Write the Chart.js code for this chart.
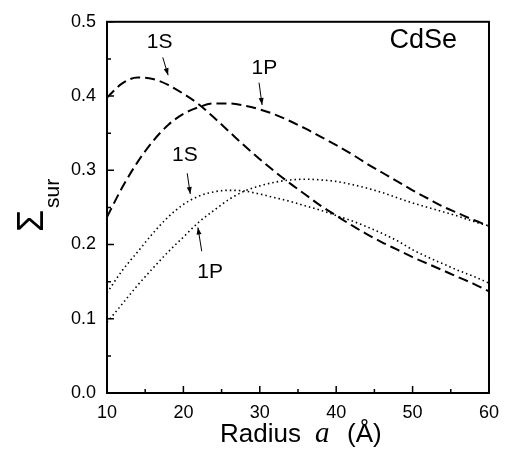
<!DOCTYPE html>
<html>
<head>
<meta charset="utf-8">
<script src="https://cdn.jsdelivr.net/npm/chart.js@4/dist/chart.umd.min.js"></script>
<style>
  html, body { margin: 0; padding: 0; background: #fff; }
  #wrap { width: 508px; height: 460px; }
</style>
</head>
<body>
<div id="wrap"><canvas id="cv" width="508" height="460"></canvas></div>
<script>
// radius a (Angstrom)
const radius = [10, 12, 14, 16, 18, 20, 22, 24, 26, 28, 30, 32, 34, 36, 38, 40, 42, 44, 46, 48, 50, 52, 54, 56, 58, 60];
// dashed curves
const s1Dash = [0.398, 0.417, 0.425, 0.423, 0.415, 0.403, 0.389, 0.371, 0.352, 0.333, 0.315, 0.298, 0.282, 0.267, 0.252, 0.239, 0.226, 0.214, 0.203, 0.193, 0.183, 0.174, 0.165, 0.156, 0.147, 0.137];
const p1Dash = [0.237, 0.277, 0.311, 0.339, 0.361, 0.376, 0.385, 0.390, 0.390, 0.387, 0.382, 0.375, 0.366, 0.356, 0.345, 0.334, 0.322, 0.309, 0.297, 0.285, 0.273, 0.262, 0.251, 0.242, 0.233, 0.225];
// dotted curves
const s1Dot = [0.135, 0.165, 0.190, 0.215, 0.237, 0.254, 0.265, 0.271, 0.273, 0.272, 0.268, 0.263, 0.258, 0.252, 0.246, 0.239, 0.232, 0.224, 0.215, 0.205, 0.193, 0.183, 0.174, 0.165, 0.157, 0.148];
const p1Dot = [0.095, 0.120, 0.145, 0.168, 0.190, 0.210, 0.230, 0.246, 0.261, 0.272, 0.279, 0.284, 0.287, 0.288, 0.287, 0.285, 0.281, 0.276, 0.270, 0.263, 0.256, 0.250, 0.244, 0.238, 0.231, 0.225];

const xTicks = [10, 20, 30, 40, 50, 60];
const yTicks = [0.0, 0.1, 0.2, 0.3, 0.4, 0.5];

// curve labels: text, label pos, arrow from, arrow to (data units)
const notes = [
  { t: '1S', at: [16.9, 0.472], from: [17.3, 0.452], to: [18.0, 0.428] },
  { t: '1P', at: [30.6, 0.438], from: [29.9, 0.418], to: [30.3, 0.388] },
  { t: '1S', at: [20.2, 0.320], from: [20.5, 0.296], to: [20.9, 0.268] },
  { t: '1P', at: [23.5, 0.163], from: [22.4, 0.191], to: [21.9, 0.223] }
];

const pts = (ys) => radius.map((r, i) => ({ x: r, y: ys[i] }));
const SANS = '"Liberation Sans", Arial, sans-serif';

const framePlugin = {
  id: 'frame',
  afterDraw(chart) {
    const ctx = chart.ctx;
    const a = chart.chartArea;
    const sx = chart.scales.x, sy = chart.scales.y;
    ctx.save();
    ctx.strokeStyle = '#000';
    ctx.lineWidth = 2;
    ctx.strokeRect(a.left, a.top, a.right - a.left, a.bottom - a.top);
    ctx.lineWidth = 1.5;
    ctx.beginPath();
    for (let v = 10; v <= 60; v += 5) {
      const px = sx.getPixelForValue(v);
      const len = v % 10 === 0 ? 7 : 4;
      ctx.moveTo(px, a.bottom); ctx.lineTo(px, a.bottom - len);
    }
    for (let k = 0; k <= 10; k++) {
      const py = sy.getPixelForValue(k * 0.05);
      const len = k % 2 === 0 ? 7 : 4;
      ctx.moveTo(a.left, py); ctx.lineTo(a.left + len, py);
    }
    ctx.stroke();

    // curve labels + arrows
    ctx.fillStyle = '#000';
    ctx.font = '21px ' + SANS;
    ctx.textAlign = 'center';
    ctx.textBaseline = 'middle';
    ctx.lineWidth = 1;
    notes.forEach(n => {
      ctx.fillText(n.t, sx.getPixelForValue(n.at[0]), sy.getPixelForValue(n.at[1]));
      const x1 = sx.getPixelForValue(n.from[0]), y1 = sy.getPixelForValue(n.from[1]);
      const x2 = sx.getPixelForValue(n.to[0]), y2 = sy.getPixelForValue(n.to[1]);
      const ang = Math.atan2(y2 - y1, x2 - x1);
      ctx.beginPath(); ctx.moveTo(x1, y1); ctx.lineTo(x2, y2); ctx.stroke();
      ctx.beginPath();
      ctx.moveTo(x2, y2);
      ctx.lineTo(x2 - 7 * Math.cos(ang) + 2.5 * Math.sin(ang), y2 - 7 * Math.sin(ang) - 2.5 * Math.cos(ang));
      ctx.lineTo(x2 - 7 * Math.cos(ang) - 2.5 * Math.sin(ang), y2 - 7 * Math.sin(ang) + 2.5 * Math.cos(ang));
      ctx.closePath(); ctx.fill();
    });

    // CdSe
    ctx.font = '27px ' + SANS;
    ctx.textBaseline = 'alphabetic';
    ctx.fillText('CdSe', sx.getPixelForValue(51.4), 48);

    // x title
    ctx.textAlign = 'left';
    ctx.font = '26px ' + SANS;
    ctx.fillText('Radius', 220, 442);
    ctx.font = 'italic 29px "Liberation Serif", "Times New Roman", serif';
    ctx.fillText('a', 315, 442);
    ctx.font = '26px ' + SANS;
    ctx.fillText('(\u00C5)', 347, 442);

    // y title, rotated
    ctx.translate(43, 232);
    ctx.rotate(-Math.PI / 2);
    ctx.font = '36px ' + SANS;
    ctx.fillText('\u03A3', 0, 0);
    ctx.font = '21px ' + SANS;
    ctx.fillText('sur', 24, 16);
    ctx.restore();
  }
};

new Chart(document.getElementById('cv'), {
  type: 'line',
  data: {
    datasets: [
      { label: '1S dashed', data: pts(s1Dash), borderDash: [10, 5], borderWidth: 2 },
      { label: '1P dashed', data: pts(p1Dash), borderDash: [10, 5], borderWidth: 2 },
      { label: '1S dotted', data: pts(s1Dot), borderDash: [1.5, 3], borderWidth: 1.6 },
      { label: '1P dotted', data: pts(p1Dot), borderDash: [1.5, 3], borderWidth: 1.6 }
    ].map(d => Object.assign(d, { borderColor: '#000', pointRadius: 0, fill: false, cubicInterpolationMode: 'monotone' }))
  },
  options: {
    responsive: false,
    animation: false,
    layout: { padding: { top: 13, right: 19, left: 0, bottom: 0 } },
    plugins: { legend: { display: false }, tooltip: { enabled: false } },
    scales: {
      x: {
        type: 'linear', min: 10, max: 60,
        afterBuildTicks: s => { s.ticks = xTicks.map(v => ({ value: v })); },
        afterFit: s => { s.height = 67; },
        grid: { display: false, drawTicks: false },
        border: { display: false },
        ticks: { color: '#000', padding: 9, maxRotation: 0, font: { family: SANS, size: 18 } }
      },
      y: {
        min: 0, max: 0.5,
        afterBuildTicks: s => { s.ticks = yTicks.map(v => ({ value: v })); },
        afterFit: s => { s.width = 107; },
        grid: { display: false, drawTicks: false },
        border: { display: false },
        ticks: { color: '#000', padding: 11, font: { family: SANS, size: 18 }, callback: v => v.toFixed(1) }
      }
    }
  },
  plugins: [framePlugin]
});
</script>
</body>
</html>
